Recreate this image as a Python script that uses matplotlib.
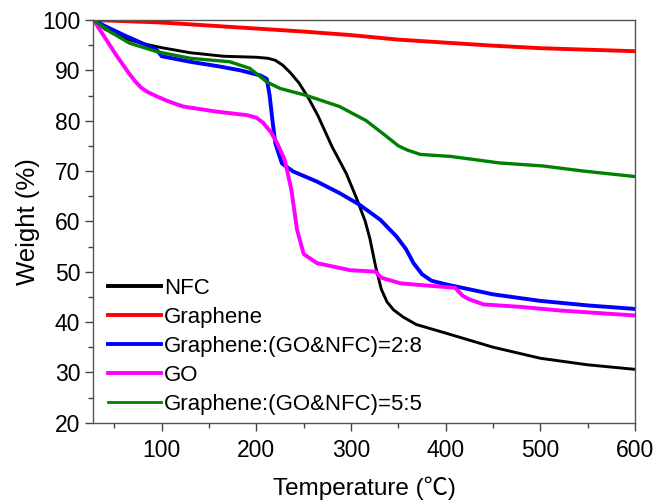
import matplotlib
matplotlib.use("Agg")
import matplotlib.pyplot as plt
from matplotlib.ticker import MultipleLocator

plt.rcParams['font.family'] = ['Liberation Sans', 'Noto Sans CJK SC', 'DejaVu Sans']

labels = ["NFC", "Graphene", "Graphene:(GO&NFC)=2:8", "GO", "Graphene:(GO&NFC)=5:5"]
colors = ["#000000", "#FF0000", "#0000FF", "#FF00FF", "#008000"]

nfc_T = [28, 40, 60, 80, 100, 130, 165, 200, 212, 220, 228, 236, 245, 255, 265, 280, 295, 306, 315, 320, 326, 332, 338, 345, 355, 369, 400, 450, 500, 550, 600]
nfc_W = [100, 98.2, 96.4, 95.3, 94.5, 93.5, 92.8, 92.6, 92.4, 92.0, 91.0, 89.5, 87.5, 84.5, 81, 74.8, 69.5, 64.5, 60, 56.5, 51, 46.5, 44, 42.4, 41, 39.5, 37.8, 35, 32.8, 31.5, 30.6]

gra_T = [28, 100, 150, 200, 250, 300, 350, 400, 450, 500, 550, 600]
gra_W = [100, 99.5, 98.9, 98.3, 97.7, 97.0, 96.1, 95.5, 94.9, 94.4, 94.1, 93.8]

g28_T = [28, 40, 60, 84, 95, 100, 130, 160, 183, 204, 211, 214, 217, 220, 227, 239, 264, 288, 309, 331, 348, 358, 366, 375, 385, 400, 450, 500, 550, 600]
g28_W = [100, 98.8, 97, 95, 94, 92.8, 91.7, 90.8, 90, 89, 88.3, 85, 80, 75.5, 71.5, 69.9, 67.9, 65.6, 63.3, 60.3, 57, 54.5, 51.7, 49.5, 48.2, 47.5, 45.5, 44.2, 43.3, 42.6]

go_T = [28, 40, 52, 65, 72, 78, 85, 95, 105, 115, 123, 158, 190, 200, 207, 215, 222, 230, 237, 243, 250, 264, 299, 326, 332, 352, 370, 410, 418, 425, 440, 480, 520, 560, 600]
go_W = [100, 96.5, 93, 89.5, 87.8, 86.6, 85.7, 84.8, 84.0, 83.3, 82.8, 81.8, 81.1, 80.6, 79.6, 77.8, 75.5, 72.2, 66.2, 58.3, 53.5, 51.7, 50.3, 50, 48.8, 47.7, 47.4, 46.8, 45.2, 44.5, 43.5, 43, 42.3, 41.8, 41.3]

g55_T = [28, 45, 66, 95, 130, 172, 193, 211, 225, 253, 288, 316, 338, 350, 359, 373, 405, 457, 503, 545, 600]
g55_W = [100, 97.7, 95.4, 93.7, 92.4, 91.7, 90.4, 87.7, 86.4, 85.0, 82.8, 80.0, 76.8, 75, 74.2, 73.3, 72.9, 71.6, 71.0, 70.0, 68.9]

xticks = [100, 200, 300, 400, 500, 600]
yticks = [20, 30, 40, 50, 60, 70, 80, 90, 100]

series = [(nfc_T, nfc_W), (gra_T, gra_W), (g28_T, g28_W), (go_T, go_W), (g55_T, g55_W)]
widths = [2.1, 2.8, 2.8, 2.8, 2.4]
leg_widths = [2.8, 2.8, 2.8, 2.8, 2.0]

fig = plt.figure(figsize=(6.57, 5.01), dpi=100)
ax = fig.add_axes([93.3/657, 1-422.7/501, (635-93.3)/657, (422.7-20)/501])

for (T, W), c, lab, lw in zip(series, colors, labels, widths):
    ax.plot(T, W, color=c, lw=lw, label=lab)

ax.set_xlim(27.7, 600)
ax.set_ylim(20, 100)
ax.set_xticks(xticks)
ax.set_yticks(yticks)
ax.xaxis.set_minor_locator(MultipleLocator(50))
ax.yaxis.set_minor_locator(MultipleLocator(5))
ax.tick_params(which='major', direction='out', length=6, width=1, colors='#444444', labelcolor='black', labelsize=16.5, top=False, right=False)
ax.tick_params(axis='x', which='major', pad=6)
ax.tick_params(which='minor', direction='out', length=3.5, width=1, colors='#444444', top=False, right=False)
for s in ax.spines.values():
    s.set_color('#555555')
    s.set_linewidth(1)

ax.set_xlabel("Temperature (℃)", fontsize=17.5, labelpad=10)
ax.set_ylabel("Weight (%)", fontsize=18.5, labelpad=1)

leg = ax.legend(loc='lower left', bbox_to_anchor=(0.027, 0.02), frameon=False, fontsize=16,
                handlelength=2.4, handletextpad=0.14, labelspacing=0.36, borderpad=0.0,
                borderaxespad=0.0)
for ln, lw in zip(leg.get_lines(), leg_widths):
    ln.set_linewidth(lw)

fig.savefig("out.png", dpi=100)
